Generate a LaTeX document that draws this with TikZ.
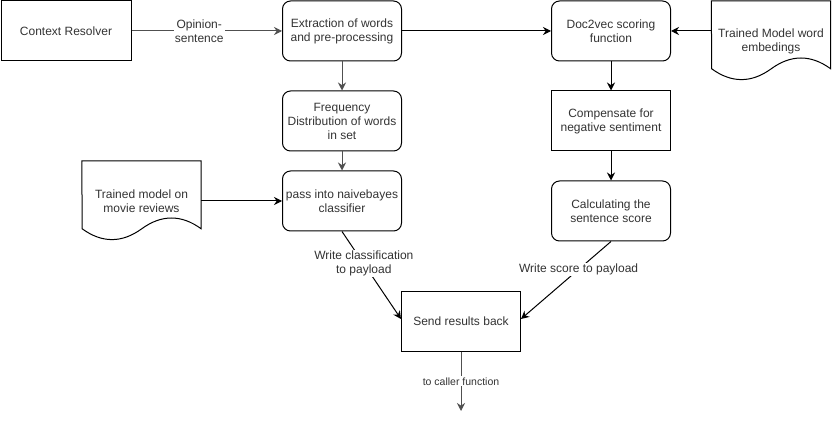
\documentclass[tikz,border=0pt]{standalone}
\usepackage{fontspec}
\setmainfont{Liberation Sans}
\usetikzlibrary{arrows.meta,positioning}

% wavy document outline drawn round a named node (119 x 80)
\newcommand{\docoutline}[1]{%
  \draw[docline] (#1.north west) -- (#1.north east) -- ++(0,68)
    .. controls +(-19.8,-14.4) and +(19.8,-14.4) .. ++(-59.5,0)
    .. controls +(-19.8,14.4) and +(19.8,14.4) .. ++(-59.5,0) -- cycle;}

\begin{document}
\begin{tikzpicture}[x=1pt, y=-1pt,
    every node/.style={font=\fontsize{12}{14}\selectfont, text=txtgray, align=center},
    box/.style={draw=black, line width=1pt, minimum width=119pt, minimum height=60pt, inner sep=1pt},
    rbox/.style={box, rounded corners=8pt},
    docbox/.style={minimum width=119pt, minimum height=80pt, inner sep=1pt},
    docline/.style={draw=black, line width=1pt},
    link/.style={line width=1pt, draw=black, -{Stealth[length=8pt,width=8pt]}},
    glink/.style={link, draw=linkgray},
    lbl/.style={fill=white, inner sep=1pt}]
    \definecolor{txtgray}{RGB}{51,51,51}
    \definecolor{linkgray}{RGB}{80,80,80}
    \useasboundingbox (0,0) rectangle (833,422);

    % Left column
    \node[box, minimum width=130pt] (ctx) at (66,31) {Context Resolver};
    \node[rbox] (extract) at (342,31) {Extraction of words\\and pre-processing};
    \node[rbox] (freq) at (342,121) {Frequency\\Distribution of words\\in set};
    \node[rbox] (nb) at (342,201) {pass into naivebayes\\classifier};

    % Trained model document (left)
    \node[docbox] (movies) at (141.5,201) {Trained model on\\movie reviews};
    \docoutline{movies}

    % Right column
    \node[rbox] (d2v) at (611,31) {Doc2vec scoring\\function};
    \node[box] (comp) at (611,121) {Compensate for\\negative sentiment};
    \node[rbox] (score) at (611,211) {Calculating the\\sentence score};

    % Trained model document (right)
    \node[docbox] (embed) at (771,41) {Trained Model word\\embedings};
    \docoutline{embed}

    % Result box
    \node[box] (send) at (461,321) {Send results back};
    \coordinate (caller) at (461,411);

    % Arrows
    \draw[glink] (ctx) -- node[lbl, pos=0.45] {Opinion-\\sentence} (extract);
    \draw[link] (extract) -- (d2v);
    \draw[link] (embed.west |- d2v.east) -- (d2v.east);
    \draw[glink] (extract) -- (freq);
    \draw[glink] (freq) -- (nb);
    \draw[link] (movies.east) -- (nb.west);
    \draw[link] (d2v) -- (comp);
    \draw[link] (comp) -- (score);
    \draw[link] (nb.south) -- node[lbl, pos=0.37] {Write classification\\to payload} ([yshift=2pt]send.west);
    \draw[link] (score.south) -- node[lbl, pos=0.36] {Write score to payload} ([yshift=2pt]send.east);
    \draw[glink] (send) -- node[lbl, font=\fontsize{10.5}{12}\selectfont] {to caller function} (caller);
\end{tikzpicture}
\end{document}
